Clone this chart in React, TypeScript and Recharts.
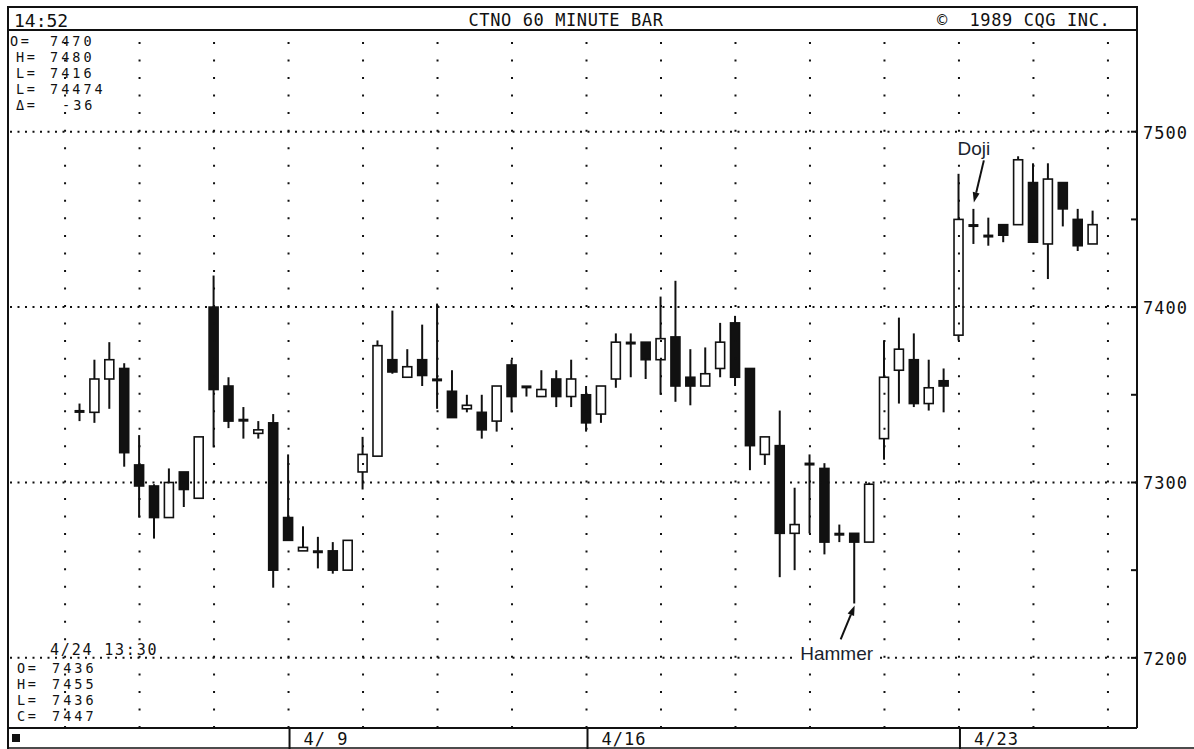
import React from 'react';
import { ComposedChart, Bar, XAxis, YAxis, ReferenceLine, ReferenceDot } from 'recharts';

// hourly bars (left to right)
const opens = [
  7340, 7340, 7359, 7365, 7310, 7298, 7280, 7306, 7291, 7400,
  7355, 7336, 7328, 7334, 7280, 7261, 7261, 7261, 7250, 7306,
  7315, 7370, 7360, 7370, 7359, 7352, 7342, 7340, 7335, 7367,
  7355, 7349, 7359, 7349, 7350, 7339, 7359, 7379, 7380, 7370,
  7383, 7360, 7355, 7365, 7391, 7365, 7316, 7321, 7271, 7310,
  7308, 7271, 7271, 7266, 7325, 7364, 7370, 7345, 7358, 7384,
  7446, 7441, 7447, 7447, 7471, 7436, 7471, 7450, 7436,
];
const highs = [
  7345, 7370, 7380, 7368, 7327, 7299, 7308, 7306, 7326, 7418,
  7360, 7343, 7335, 7339, 7316, 7275, 7269, 7266, 7267, 7326,
  7381, 7398, 7376, 7390, 7402, 7364, 7350, 7350, 7355, 7370,
  7355, 7364, 7364, 7370, 7355, 7355, 7385, 7385, 7380, 7406,
  7415, 7376, 7377, 7391, 7395, 7365, 7326, 7341, 7297, 7316,
  7311, 7276, 7271, 7300, 7381, 7394, 7385, 7370, 7365, 7476,
  7456, 7451, 7447, 7486, 7482, 7482, 7471, 7456, 7455,
];
const lows = [
  7335, 7334, 7342, 7309, 7280, 7268, 7280, 7286, 7291, 7320,
  7331, 7325, 7325, 7240, 7267, 7261, 7251, 7248, 7250, 7296,
  7315, 7362, 7360, 7355, 7342, 7337, 7340, 7325, 7329, 7340,
  7349, 7349, 7343, 7343, 7329, 7334, 7354, 7360, 7359, 7350,
  7346, 7344, 7355, 7360, 7355, 7307, 7310, 7246, 7250, 7271,
  7259, 7266, 7231, 7266, 7313, 7345, 7343, 7341, 7340, 7381,
  7436, 7435, 7437, 7447, 7437, 7416, 7446, 7432, 7436,
];
const closes = [
  7341, 7359, 7370, 7317, 7298, 7280, 7300, 7296, 7326, 7353,
  7335, 7335, 7330, 7250, 7267, 7263, 7260, 7250, 7267, 7316,
  7378, 7363, 7366, 7361, 7358, 7337, 7344, 7330, 7355, 7349,
  7354, 7353, 7349, 7359, 7334, 7355, 7380, 7380, 7370, 7382,
  7355, 7355, 7362, 7380, 7360, 7321, 7326, 7271, 7276, 7311,
  7266, 7270, 7266, 7299, 7360, 7376, 7345, 7354, 7355, 7450,
  7447, 7440, 7441, 7484, 7437, 7473, 7456, 7435, 7447,
];

const priceTicks = [7200, 7250, 7300, 7350, 7400, 7450, 7500];
const priceGrid = [7200, 7300, 7400, 7500];
const timeGrid = [-1, 4, 9, 14, 19, 24, 29, 34, 39, 44, 49, 54, 59, 64, 69];
const dateTicks = [14, 34, 59];
const dateLabels = ['4/ 9', '4/16', '4/23'];

const noteLabels = ['Doji', 'Hammer'];
const noteBars = [60, 52];
const notePrices = [7458, 7231];

const topStats = [
  ['O=', '7470'],
  ['H=', '7480'],
  ['L=', '7416'],
  ['L=', '74474'],
  ['\u0394=', '-36'],
];
const lastStats = [
  ['O=', '7436'],
  ['H=', '7455'],
  ['L=', '7436'],
  ['C=', '7447'],
];

const data = opens.map((o, i) => ({
  t: i,
  o,
  h: highs[i],
  l: lows[i],
  c: closes[i],
  range: [lows[i], highs[i]],
}));

const INK = '#111';
const MONO = '"DejaVu Sans Mono", "Liberation Mono", monospace';

const Candle = (props: any) => {
  const { x, y, width, height, payload } = props;
  if (!payload) return null;
  const { o, h, l, c } = payload;
  const top = Math.min(y, y + height);
  const span = Math.abs(height);
  const k = h > l ? span / (h - l) : 0;
  const py = (v: number) => top + (h - v) * k;
  const cx = x + width / 2;
  const bw = 9;
  const yTop = py(Math.max(o, c));
  const yBot = py(Math.min(o, c));
  return (
    <g>
      <line x1={cx} x2={cx} y1={py(h)} y2={py(l)} stroke={INK} strokeWidth={2} />
      {Math.abs(c - o) <= 1.5 ? (
        <line x1={cx - 5} x2={cx + 5} y1={(yTop + yBot) / 2} y2={(yTop + yBot) / 2} stroke={INK} strokeWidth={3} />
      ) : (
        <rect
          x={cx - bw / 2}
          y={yTop}
          width={bw}
          height={Math.max(yBot - yTop, 2)}
          fill={c >= o ? '#fff' : INK}
          stroke={INK}
          strokeWidth={1.6}
        />
      )}
    </g>
  );
};

const PriceTick = (props: any) => {
  const { x, y, payload } = props;
  return (
    <g>
      <line x1={x - 6} x2={x} y1={y} y2={y} stroke={INK} strokeWidth={2} />
      {payload.value % 100 === 0 && (
        <text x={x + 6} y={y + 7} fontFamily={MONO} fontSize={17} letterSpacing={1} fill={INK}>
          {payload.value}
        </text>
      )}
    </g>
  );
};

const DateTick = (props: any) => {
  const { x, y, payload } = props;
  const label = dateLabels[dateTicks.indexOf(payload.value)];
  return (
    <g>
      <line x1={x + 1} x2={x + 1} y1={y} y2={y + 21} stroke={INK} strokeWidth={2} />
      <text x={x + 15} y={y + 17} fontFamily={MONO} fontSize={17} letterSpacing={1} fill={INK} xmlSpace="preserve" style={{ whiteSpace: 'pre' }}>
        {label}
      </text>
    </g>
  );
};

// arrow offsets relative to the marked price, per note
const noteLayout: Record<string, { tail: [number, number]; tip: [number, number]; text: [number, number]; w: number }> = {
  Doji: { tail: [10, -45], tip: [0, -3], text: [0, -50], w: 40 },
  Hammer: { tail: [-14, 36], tip: [0, 2], text: [-18, 57], w: 80 },
};

const Note = (props: any) => {
  const { cx, cy, label } = props;
  const lay = noteLayout[label];
  const x1 = cx + lay.tail[0];
  const y1 = cy + lay.tail[1];
  const x2 = cx + lay.tip[0];
  const y2 = cy + lay.tip[1];
  const len = Math.hypot(x2 - x1, y2 - y1);
  const ux = (x2 - x1) / len;
  const uy = (y2 - y1) / len;
  const bx = x2 - ux * 10;
  const by = y2 - uy * 10;
  const head = `${x2},${y2} ${bx - uy * 3.5},${by + ux * 3.5} ${bx + uy * 3.5},${by - ux * 3.5}`;
  const tx = cx + lay.text[0];
  const ty = cy + lay.text[1];
  return (
    <g>
      <line x1={x1} y1={y1} x2={bx} y2={by} stroke={INK} strokeWidth={2} />
      <polygon points={head} fill={INK} />
      <rect x={tx - lay.w / 2} y={ty - 15} width={lay.w} height={19} fill="#fff" />
      <text
        x={tx}
        y={ty}
        textAnchor="middle"
        fontFamily='"Liberation Sans", Arial, sans-serif'
        fontSize={19}
        fill="#1a1f2e"
      >
        {label}
      </text>
    </g>
  );
};

export default function App() {
  return (
    <div style={{ position: 'absolute', left: 0, top: 0, width: 1194, height: 749, background: '#fff' }}>
      <ComposedChart width={1194} height={749} data={data} margin={{ top: 30, right: 0, bottom: 0, left: 8 }}>
        <XAxis
          dataKey="t"
          type="number"
          domain={[-4.83, 70.95]}
          allowDataOverflow
          ticks={dateTicks}
          interval={0}
          height={21}
          tickSize={0}
          tickMargin={0}
          tickLine={false}
          axisLine={{ stroke: INK, strokeWidth: 2 }}
          tick={<DateTick />}
        />
        <YAxis
          orientation="right"
          domain={[7160, 7558]}
          allowDataOverflow
          ticks={priceTicks}
          interval={0}
          width={57}
          tickSize={0}
          tickMargin={0}
          tickLine={false}
          axisLine={{ stroke: INK, strokeWidth: 2 }}
          tick={<PriceTick />}
        />
        {priceGrid.map((v) => (
          <ReferenceLine key={`p${v}`} y={v} stroke={INK} strokeWidth={2} strokeDasharray="2 5.5" />
        ))}
        {timeGrid.map((t) => (
          <ReferenceLine key={`t${t}`} x={t} stroke={INK} strokeWidth={2} strokeDasharray="2 15.54" />
        ))}
        <Bar dataKey="range" barSize={10} isAnimationActive={false} shape={(p: any) => <Candle {...p} />} />
        {noteLabels.map((label, i) => (
          <ReferenceDot
            key={label}
            x={noteBars[i]}
            y={notePrices[i]}
            ifOverflow="visible"
            shape={(p: any) => <Note {...p} label={label} />}
          />
        ))}
      </ComposedChart>

      <svg width={1194} height={749} style={{ position: 'absolute', left: 0, top: 0, pointerEvents: 'none' }}>
        <line x1={7} x2={1138} y1={7} y2={7} stroke={INK} strokeWidth={2} />
        <line x1={7} x2={1138} y1={30} y2={30} stroke={INK} strokeWidth={2} />
        <line x1={8} x2={8} y1={6} y2={749} stroke={INK} strokeWidth={2} />
        <line x1={1137} x2={1137} y1={6} y2={30} stroke={INK} strokeWidth={2} />
        <line x1={8} x2={1194} y1={748} y2={748} stroke={INK} strokeWidth={1.5} />
        <rect x={12} y={734} width={8} height={8} fill={INK} />

        <g fontFamily={MONO} fill={INK}>
          <text x={14} y={27} fontSize={18}>14:52</text>
          <text x={566} y={26} fontSize={17} letterSpacing={0.6} textAnchor="middle">CTNO 60 MINUTE BAR</text>
          <text x={937} y={26} fontSize={17} letterSpacing={0.6} xmlSpace="preserve" style={{ whiteSpace: 'pre' }}>
            {'\u00A9  1989 CQG INC.'}
          </text>

          {topStats.map(([k, v], i) => (
            <g key={`ts${i}`}>
              <text x={i === 0 ? 10 : 16} y={46 + i * 16} fontSize={13.5} letterSpacing={2.5}>{k}</text>
              <text x={i === 4 ? 62 : 50} y={46 + i * 16} fontSize={13.5} letterSpacing={3}>{v}</text>
            </g>
          ))}

          <text x={50} y={655} fontSize={15} letterSpacing={1.8}>4/24 13:30</text>
          {lastStats.map(([k, v], i) => (
            <g key={`ls${i}`}>
              <text x={17} y={673 + i * 16} fontSize={13.5} letterSpacing={2.5}>{k}</text>
              <text x={52} y={673 + i * 16} fontSize={13.5} letterSpacing={3}>{v}</text>
            </g>
          ))}
        </g>
      </svg>
    </div>
  );
}
